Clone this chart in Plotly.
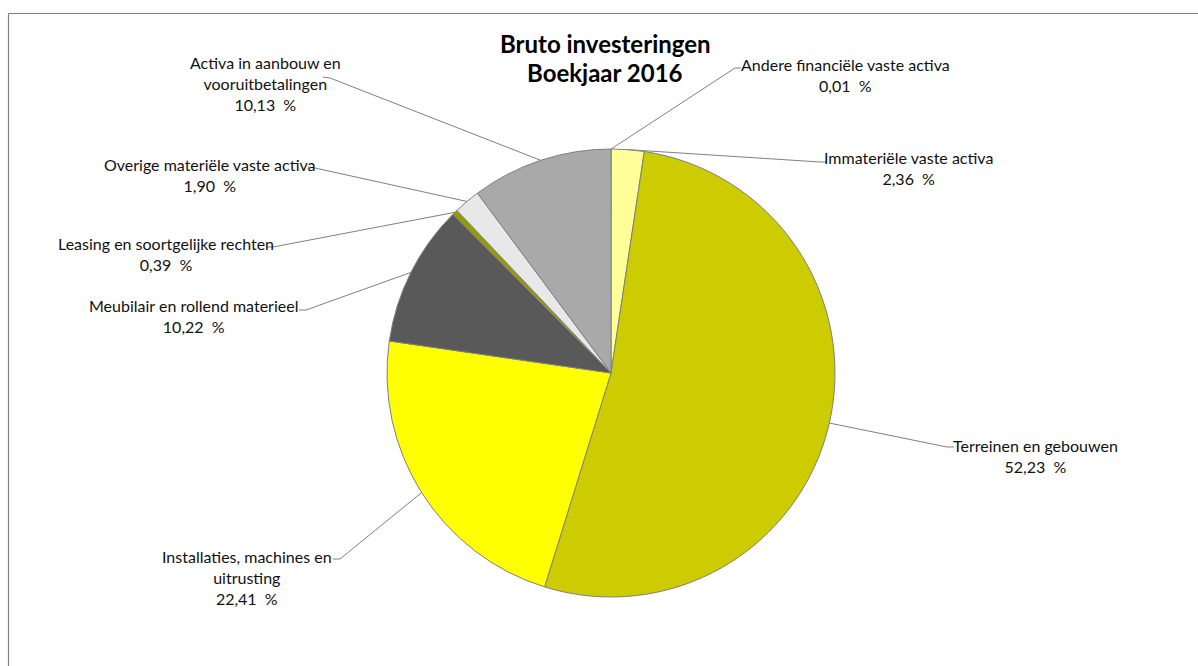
import math
import plotly.graph_objects as go

# Bruto investeringen, boekjaar 2016 (percentages per rubriek)
categories = [
    "Andere financiële vaste activa",
    "Immateriële vaste activa",
    "Terreinen en gebouwen",
    "Installaties, machines en uitrusting",
    "Meubilair en rollend materieel",
    "Leasing en soortgelijke rechten",
    "Overige materiële vaste activa",
    "Activa in aanbouw en vooruitbetalingen",
]
shares = [0.01, 2.36, 52.23, 22.41, 10.22, 0.39, 1.90, 10.13]
label_lines = [
    ["Andere financiële vaste activa"],
    ["Immateriële vaste activa"],
    ["Terreinen en gebouwen"],
    ["Installaties, machines en", "uitrusting"],
    ["Meubilair en rollend materieel"],
    ["Leasing en soortgelijke rechten"],
    ["Overige materiële vaste activa"],
    ["Activa in aanbouw en", "vooruitbetalingen"],
]
slice_colors = ["#C8C8C8", "#FFFF99", "#CCCC00", "#FFFF00",
                "#595959", "#999900", "#E8E8E8", "#A9A9A9"]

W, H = 1198, 666
FONT = "Lato, 'Open Sans', sans-serif"

# pie placement (pixels)
CX, CY, R = 611, 373, 224

# label block centres and leader-line stubs (pixels): text centre, stub start (at text), stub end
label_layout = [
    dict(tx=845, ty=75, s0=(741, 68), s1=(735, 68)),
    dict(tx=908, ty=168, s0=(826, 162), s1=(820, 162)),
    dict(tx=1035, ty=456, s0=(954, 447), s1=(947, 447)),
    dict(tx=247, ty=577, s0=(333, 559), s1=(340, 559)),
    dict(tx=193, ty=316, s0=(299, 310), s1=(306, 310)),
    dict(tx=166, ty=254, s0=(266, 247), s1=(273, 247)),
    dict(tx=210, ty=175, s0=(308, 167), s1=(315, 168)),
    dict(tx=265, ty=83, s0=(323, 77), s1=(330, 78)),
]


def px(x):
    return x / W


def py(y):
    return 1 - y / H


fig = go.Figure()
fig.add_trace(go.Pie(
    labels=categories,
    values=shares,
    sort=False,
    direction="clockwise",
    rotation=0,
    textinfo="none",
    hoverinfo="label+percent",
    marker=dict(colors=slice_colors, line=dict(color="#808080", width=1)),
    domain=dict(x=[px(CX - R), px(CX + R)], y=[py(CY + R), py(CY - R)]),
    showlegend=False,
))

total = sum(shares)
shapes = []
annotations = []
cum = 0.0
for name_lines, val, lay in zip(label_lines, shares, label_layout):
    mid = (cum + val / 2) / total * 2 * math.pi
    cum += val
    ex = CX + R * math.sin(mid)
    ey = CY - R * math.cos(mid)
    (x0, y0), (x1, y1) = lay["s0"], lay["s1"]
    shapes.append(dict(type="path", xref="paper", yref="paper",
                       path=f"M {px(x0)} {py(y0)} L {px(x1)} {py(y1)} L {px(ex)} {py(ey)}",
                       line=dict(color="#808080", width=1)))
    pct = f"{val:.2f}".replace(".", ",") + "\u00a0 %"
    annotations.append(dict(
        x=px(lay["tx"]), y=py(lay["ty"]), xref="paper", yref="paper",
        xanchor="center", yanchor="middle", showarrow=False,
        text="<br>".join(name_lines + [pct]), align="center",
        font=dict(family=FONT, size=16, color="#111111"),
    ))

# chart title
for txt, yy in [("Bruto investeringen", 43), ("Boekjaar 2016", 72)]:
    annotations.append(dict(
        x=px(605), y=py(yy), xref="paper", yref="paper",
        xanchor="center", yanchor="middle", showarrow=False,
        text=f"<b>{txt}</b>", font=dict(family=FONT, size=24, color="#000000"),
    ))

# chart area border (top and left edges fall inside the page)
shapes.append(dict(type="line", xref="paper", yref="paper",
                   x0=px(8.5), y0=py(13.5), x1=1.0, y1=py(13.5),
                   line=dict(color="#808080", width=1.2)))
shapes.append(dict(type="line", xref="paper", yref="paper",
                   x0=px(8.5), y0=py(13.5), x1=px(8.5), y1=0.0,
                   line=dict(color="#808080", width=1.2)))

fig.update_layout(
    width=W, height=H,
    margin=dict(l=0, r=0, t=0, b=0),
    paper_bgcolor="white",
    plot_bgcolor="white",
    shapes=shapes,
    annotations=annotations,
)

fig.write_html("out.html")
